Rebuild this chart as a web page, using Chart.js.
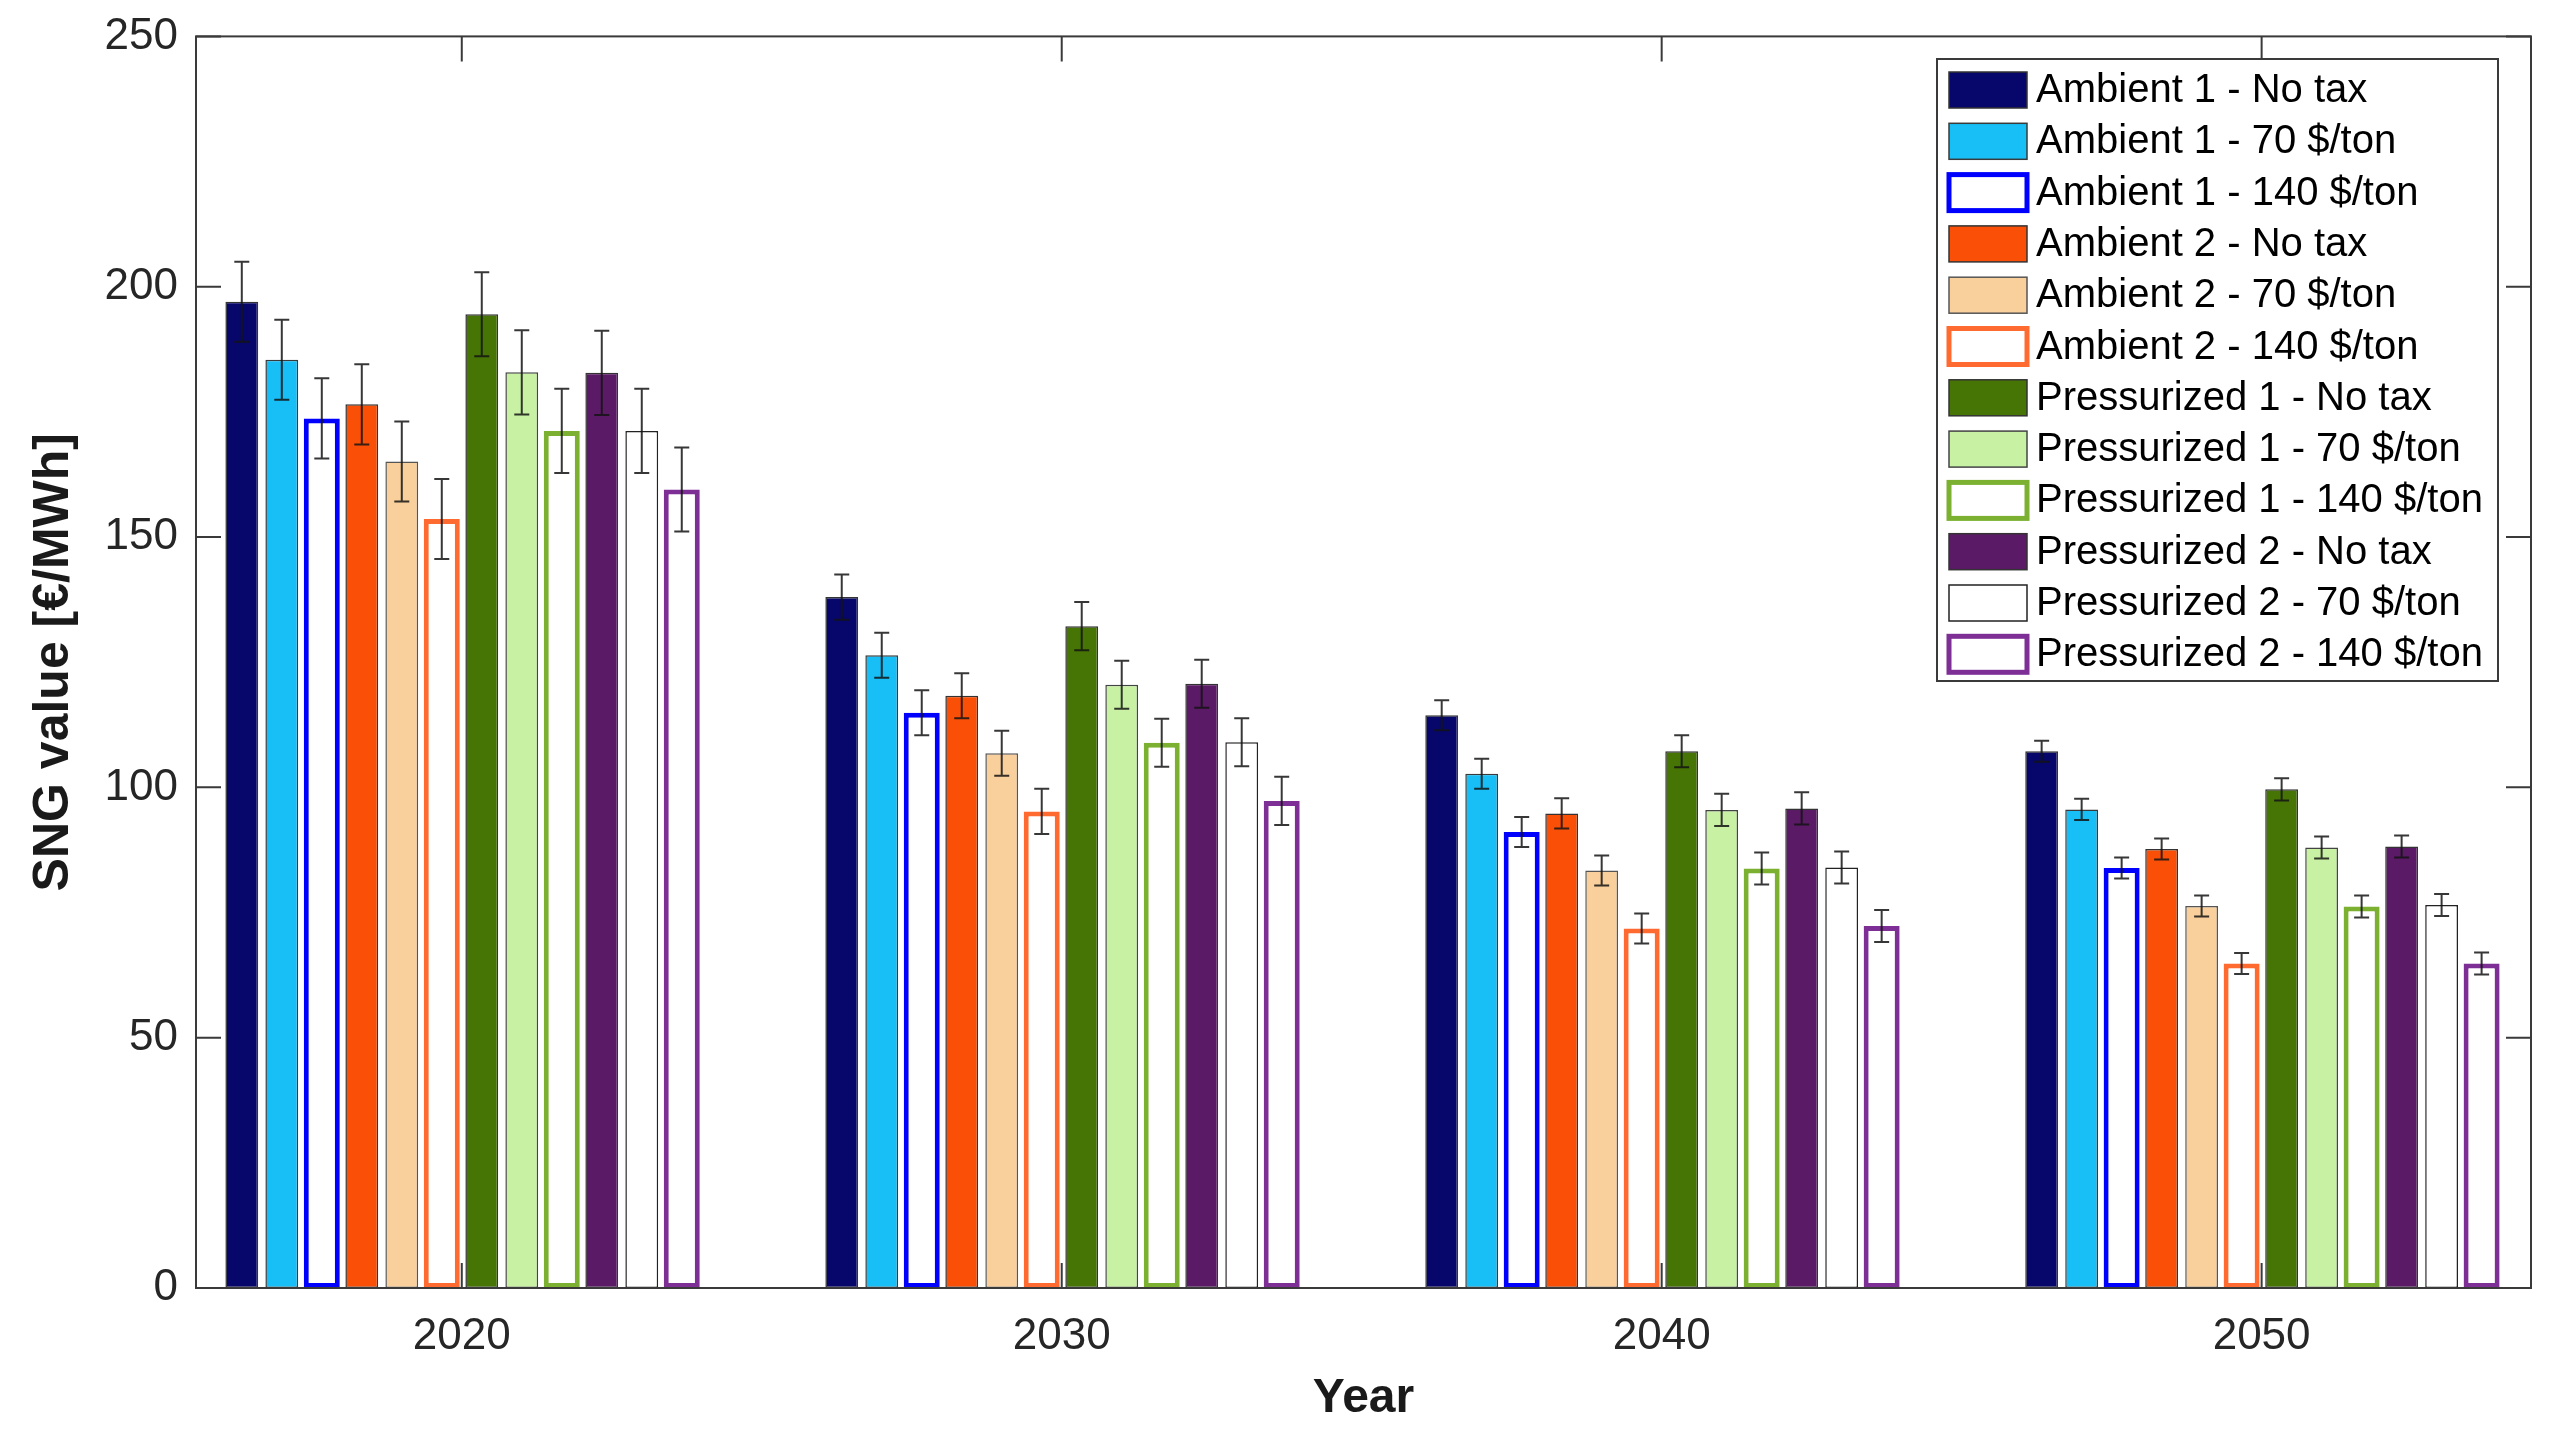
<!DOCTYPE html>
<html>
<head>
<meta charset="utf-8">
<script src="https://cdn.jsdelivr.net/npm/chart.js@4.4.1/dist/chart.umd.min.js"></script>
<style>
  html, body { margin: 0; padding: 0; background: #fff; }
  #wrap { width: 2564px; height: 1444px; }
</style>
</head>
<body>
<div id="wrap"><canvas id="chart" width="2564" height="1444"></canvas></div>
<script>
const years = ['2020', '2030', '2040', '2050'];
const yTicks = [0, 50, 100, 150, 200, 250];

const seriesNames = [
    'Ambient 1 - No tax', 'Ambient 1 - 70 $/ton', 'Ambient 1 - 140 $/ton',
    'Ambient 2 - No tax', 'Ambient 2 - 70 $/ton', 'Ambient 2 - 140 $/ton',
    'Pressurized 1 - No tax', 'Pressurized 1 - 70 $/ton', 'Pressurized 1 - 140 $/ton',
    'Pressurized 2 - No tax', 'Pressurized 2 - 70 $/ton', 'Pressurized 2 - 140 $/ton',
];

// SNG value [€/MWh], one entry per year
const a1NoTax  = [197.0, 138.0, 114.4, 107.2];
const a1Tax70  = [185.4, 126.4, 102.7, 95.6];
const a1Tax140 = [173.7, 114.9, 91.1, 83.9];
const a2NoTax  = [176.5, 118.3, 94.8, 87.7];
const a2Tax70  = [165.1, 106.8, 83.4, 76.3];
const a2Tax140 = [153.6, 95.2, 71.8, 64.8];
const p1NoTax  = [194.5, 132.2, 107.2, 99.6];
const p1Tax70  = [182.9, 120.5, 95.5, 88.0];
const p1Tax140 = [171.2, 108.9, 83.8, 76.2];
const p2NoTax  = [182.8, 120.7, 95.8, 88.2];
const p2Tax70  = [171.2, 109.0, 84.0, 76.5];
const p2Tax140 = [159.5, 97.3, 72.3, 64.8];

// half height of the error bars
const a1Err = [8.0, 4.5, 3.0, 2.1];
const a2Err = [8.0, 4.5, 3.0, 2.1];
const p1Err = [8.4, 4.8, 3.2, 2.2];
const p2Err = [8.4, 4.8, 3.2, 2.2];

const values = [a1NoTax, a1Tax70, a1Tax140, a2NoTax, a2Tax70, a2Tax140,
                p1NoTax, p1Tax70, p1Tax140, p2NoTax, p2Tax70, p2Tax140];
const errors = [a1Err, a1Err, a1Err, a2Err, a2Err, a2Err,
                p1Err, p1Err, p1Err, p2Err, p2Err, p2Err];

const fills   = ['#06066b', '#17bff6', '#ffffff', '#fa4f07', '#f9d09c', '#ffffff',
                 '#467505', '#c8f1a4', '#ffffff', '#5b1a66', '#ffffff', '#ffffff'];
const strokes = ['#333333', '#3a3a3a', '#0000ff', '#333333', '#555555', '#ff6a30',
                 '#333333', '#444444', '#7bb030', '#333333', '#222222', '#7e2f96'];
const open    = [false, false, true, false, false, true, false, false, true, false, false, true];

const FONT = "'Liberation Sans', Arial, Helvetica, sans-serif";

const datasets = seriesNames.map((name, s) => ({
    label: name,
    data: values[s].map((v, i) => ({ x: i + 1, y: v })),
    backgroundColor: fills[s],
    borderColor: strokes[s],
    borderWidth: open[s] ? 5 : 1.5,
    borderSkipped: false,
    barPercentage: open[s] ? 0.9 : 0.82,
    categoryPercentage: 0.8,
}));

const errorBars = {
    id: 'errorBars',
    afterDatasetsDraw(chart) {
        const { ctx, scales: { y } } = chart;
        ctx.save();
        ctx.strokeStyle = 'rgba(20,20,20,0.85)';
        ctx.lineWidth = 2;
        chart.data.datasets.forEach((ds, s) => {
            chart.getDatasetMeta(s).data.forEach((bar, i) => {
                const v = values[s][i], e = errors[s][i];
                const top = y.getPixelForValue(v + e);
                const bot = y.getPixelForValue(v - e);
                const x = bar.x;
                ctx.beginPath();
                ctx.moveTo(x, top); ctx.lineTo(x, bot);
                ctx.moveTo(x - 7.5, top); ctx.lineTo(x + 7.5, top);
                ctx.moveTo(x - 7.5, bot); ctx.lineTo(x + 7.5, bot);
                ctx.stroke();
            });
        });
        ctx.restore();
    },
};

const frame = {
    id: 'frame',
    afterDraw(chart) {
        const { ctx, chartArea: a, scales: { x, y } } = chart;
        const tl = 25;
        ctx.save();
        ctx.strokeStyle = '#3a3a3a';
        ctx.lineWidth = 2;
        ctx.strokeRect(a.left, a.top, a.right - a.left, a.bottom - a.top);
        ctx.beginPath();
        yTicks.forEach(t => {
            const py = y.getPixelForValue(t);
            ctx.moveTo(a.left, py); ctx.lineTo(a.left + tl, py);
            ctx.moveTo(a.right, py); ctx.lineTo(a.right - tl, py);
        });
        years.forEach((_, i) => {
            const px = x.getPixelForValue(i + 1);
            ctx.moveTo(px, a.top); ctx.lineTo(px, a.top + tl);
            ctx.moveTo(px, a.bottom); ctx.lineTo(px, a.bottom - tl);
        });
        ctx.stroke();
        ctx.restore();

        // legend box inside the plot, top right
        const bx = 1937, by = 59, bw = 561, bh = 622, pitch = 51.3;
        ctx.save();
        ctx.fillStyle = '#ffffff';
        ctx.fillRect(bx, by, bw, bh);
        ctx.strokeStyle = '#3a3a3a';
        ctx.lineWidth = 2;
        ctx.strokeRect(bx, by, bw, bh);
        ctx.font = `40px ${FONT}`;
        ctx.textBaseline = 'middle';
        chart.data.datasets.forEach((ds, s) => {
            const cy = by + 31 + s * pitch;
            ctx.fillStyle = fills[s];
            ctx.fillRect(bx + 12, cy - 18, 78, 36);
            ctx.strokeStyle = strokes[s];
            ctx.lineWidth = open[s] ? 5 : 1.5;
            ctx.strokeRect(bx + 12, cy - 18, 78, 36);
            ctx.fillStyle = '#000000';
            ctx.fillText(ds.label, bx + 99, cy + 1);
        });
        ctx.restore();
    },
};

new Chart(document.getElementById('chart'), {
    type: 'bar',
    data: { datasets },
    options: {
        responsive: false,
        devicePixelRatio: 1,
        animation: false,
        layout: { padding: { top: 36, right: 33, left: 0, bottom: 0 } },
        plugins: {
            legend: { display: false },
            tooltip: { enabled: false },
        },
        scales: {
            x: {
                type: 'linear',
                min: 0.557,
                max: 4.449,
                offset: false,
                grid: { display: false },
                border: { display: false },
                afterBuildTicks: (scale) => { scale.ticks = years.map((_, i) => ({ value: i + 1 })); },
                afterFit: (scale) => { scale.height = 156; },
                ticks: {
                    color: '#262626',
                    font: { family: FONT, size: 44 },
                    padding: 14,
                    maxRotation: 0,
                    callback: (v) => years[v - 1],
                },
                title: {
                    display: true,
                    text: 'Year',
                    color: '#1a1a1a',
                    font: { family: FONT, size: 48, weight: 'bold' },
                    padding: { top: 0, bottom: 16 },
                },
            },
            y: {
                min: 0,
                max: 250,
                grid: { display: false },
                border: { display: false },
                afterFit: (scale) => { scale.width = 196; },
                ticks: {
                    stepSize: 50,
                    color: '#262626',
                    font: { family: FONT, size: 44 },
                    padding: 10,
                },
                title: {
                    display: true,
                    text: 'SNG value [€/MWh]',
                    color: '#1a1a1a',
                    font: { family: FONT, size: 50, weight: 'bold' },
                    padding: { top: 24, bottom: 0 },
                },
            },
        },
    },
    plugins: [errorBars, frame],
});
</script>
</body>
</html>
